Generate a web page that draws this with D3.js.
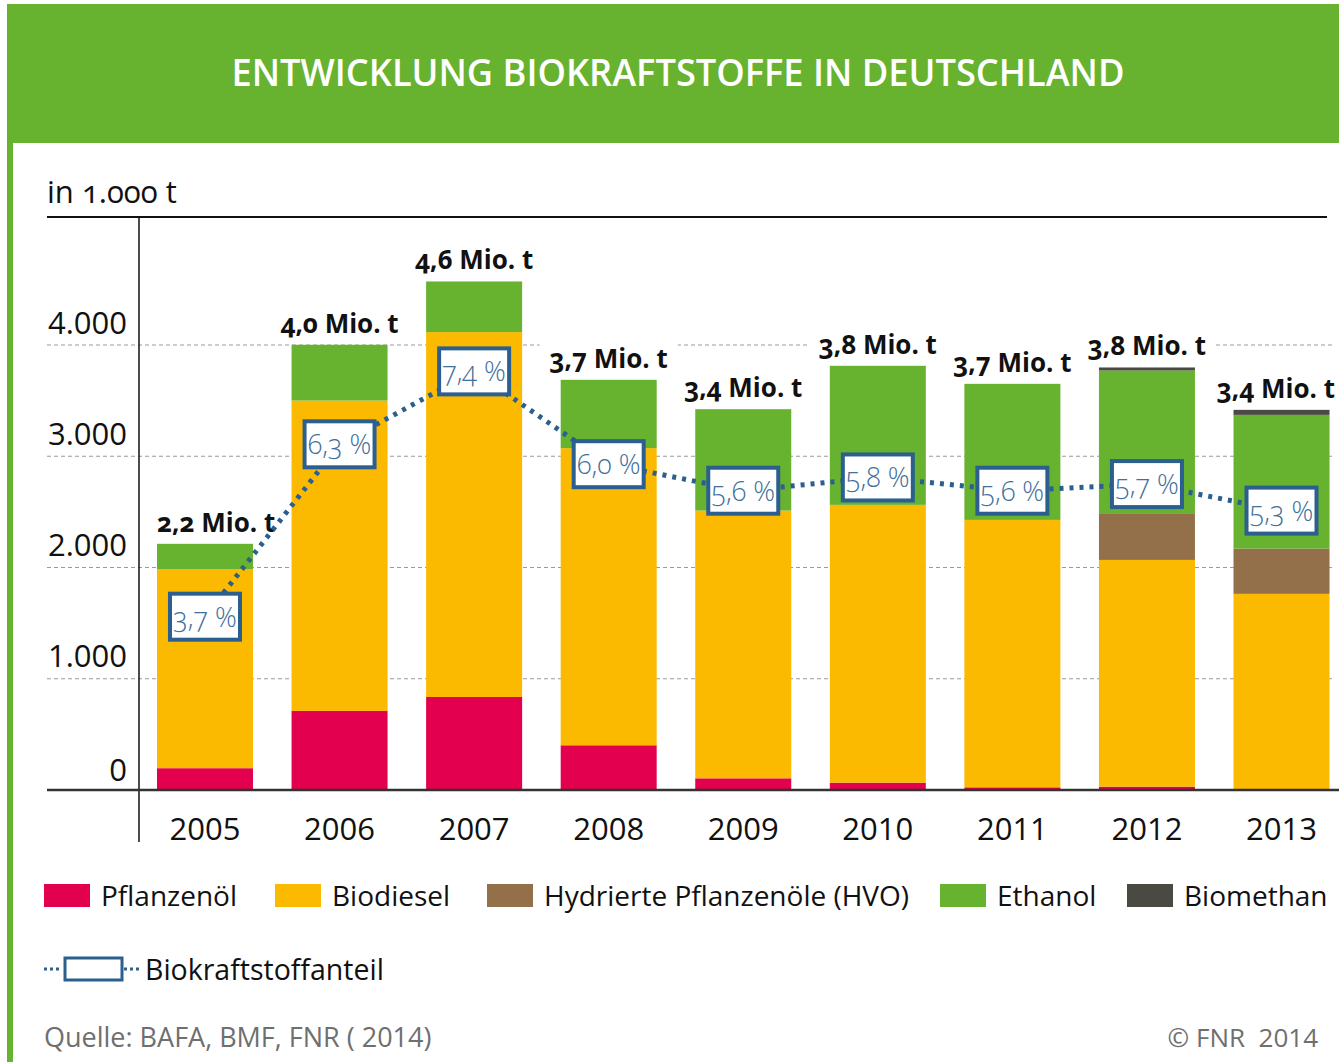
<!DOCTYPE html>
<html>
<head>
<meta charset="utf-8">
<script src="https://cdn.jsdelivr.net/npm/d3@7"></script>
<style>
  html, body { margin: 0; padding: 0; background: #fff; }
  svg { display: block; }
  text { font-family: "Open Sans", "Noto Sans", sans-serif; }
</style>
</head>
<body>
<svg id="chart" width="1339" height="1062"></svg>
<script>
// ---------- DATA ----------
const years = ["2005", "2006", "2007", "2008", "2009", "2010", "2011", "2012", "2013"];
const pflanzenoel = [196, 711, 836, 402, 105, 66, 24, 30, 0];
const biodiesel   = [1790, 2790, 3280, 2671, 2407, 2497, 2404, 2038, 1763];
const hvo         = [0, 0, 0, 0, 0, 0, 0, 420, 407];
const ethanol     = [227, 501, 455, 614, 911, 1250, 1223, 1283, 1202];
const biomethan   = [0, 0, 0, 0, 0, 0, 0, 27, 45];
const totalLabels = ["2,2 Mio. t", "4,0 Mio. t", "4,6 Mio. t", "3,7 Mio. t", "3,4 Mio. t",
                     "3,8 Mio. t", "3,7 Mio. t", "3,8 Mio. t", "3,4 Mio. t"];
const shareValues = [3.7, 6.3, 7.4, 6.0, 5.6, 5.8, 5.6, 5.7, 5.3];
const shareLabels = ["3,7 %", "6,3 %", "7,4 %", "6,0 %", "5,6 %", "5,8 %", "5,6 %", "5,7 %", "5,3 %"];
const yTicks      = [0, 1000, 2000, 3000, 4000];
const yTickLabels = ["0", "1.000", "2.000", "3.000", "4.000"];
const seriesNames = ["Pflanzenöl", "Biodiesel", "Hydrierte Pflanzenöle (HVO)", "Ethanol", "Biomethan"];
const shareName   = "Biokraftstoffanteil";

// ---------- STYLE ----------
const colors = ["#e2004f", "#fbb900", "#94704a", "#67b22f", "#4a4a42"];
const green = "#67b22f";
const lineBlue = "#2a5f8f";
const labelBlue = "#41709b";

const svg = d3.select("#chart");

// Header & frame
svg.append("rect").attr("x", 7).attr("y", 4).attr("width", 1332).attr("height", 139).attr("fill", green);
svg.append("rect").attr("x", 7).attr("y", 4).attr("width", 6).attr("height", 1058).attr("fill", green);
svg.append("text")
  .attr("x", 678).attr("y", 86)
  .attr("text-anchor", "middle")
  .attr("fill", "#fff")
  .attr("font-size", 38).attr("font-weight", 600)
  .attr("textLength", 893).attr("lengthAdjust", "spacingAndGlyphs")
  .text("ENTWICKLUNG BIOKRAFTSTOFFE IN DEUTSCHLAND");

// Unit label
svg.append("text")
  .attr("x", 47).attr("y", 203)
  .attr("font-size", 31).attr("fill", "#111")
  .style("font-variant-numeric", "oldstyle-nums")
  .text("in 1.000 t");

// ---------- SCALES ----------
const x = d3.scaleBand().domain(years).range([136.8, 1349.7]).paddingInner(0.2866).paddingOuter(0.15);
const y = d3.scaleLinear().domain([0, 4000]).range([790, 345]);
const y2 = d3.scaleLinear().domain([0, 10]).range([862, 199]);

// Gridlines
svg.append("g").selectAll("line").data(yTicks.filter(d => d > 0)).join("line")
  .attr("x1", 47).attr("x2", 1335)
  .attr("y1", d => y(d)).attr("y2", d => y(d))
  .attr("stroke", "#9a9a9a").attr("stroke-width", 1).attr("stroke-dasharray", "4,3");

// Top rule
svg.append("line").attr("x1", 47).attr("x2", 1327).attr("y1", 217).attr("y2", 217)
  .attr("stroke", "#111").attr("stroke-width", 2);

// ---------- STACKED BARS ----------
const rows = years.map((yr, i) => ({
  year: yr, s0: pflanzenoel[i], s1: biodiesel[i], s2: hvo[i], s3: ethanol[i], s4: biomethan[i]
}));
const stack = d3.stack().keys(["s0", "s1", "s2", "s3", "s4"]);
const stacked = stack(rows);

svg.append("g").selectAll("g").data(stacked).join("g")
  .attr("fill", (d, i) => colors[i])
  .selectAll("rect").data(d => d).join("rect")
  .attr("x", d => x(d.data.year))
  .attr("width", x.bandwidth())
  .attr("y", d => y(d[1]))
  .attr("height", d => Math.max(0, y(d[0]) - y(d[1])));

// Total labels with white backing (kept inside the plot: clear of the y axis and the right edge)
const totals = rows.map(r => r.s0 + r.s1 + r.s2 + r.s3 + r.s4);
const tl = svg.append("g");
years.forEach((yr, i) => {
  let cx = x(yr) + x.bandwidth() / 2;
  const by = y(totals[i]) - 12;
  const g = tl.append("g");
  const t = g.append("text")
    .attr("y", by)
    .attr("text-anchor", "middle")
    .attr("font-size", 26).attr("font-weight", 700).attr("fill", "#111")
    .style("font-variant-numeric", "oldstyle-nums")
    .text(totalLabels[i]);
  const w = t.node().getComputedTextLength();
  cx = Math.max(cx, 157 + w / 2);
  cx = Math.min(cx, 1335 - w / 2);
  t.attr("x", cx);
  g.insert("rect", "text")
    .attr("x", cx - w / 2 - 10).attr("y", by - 28)
    .attr("width", w + 20).attr("height", 38)
    .attr("fill", "#fff");
});

// Axes
const yAxis = svg.append("g").attr("transform", "translate(139,0)")
  .call(d3.axisLeft(y).tickValues(yTicks).tickFormat((d, i) => yTickLabels[i]).tickSize(0).tickPadding(12));
yAxis.select(".domain").remove();
yAxis.selectAll("text")
  .attr("font-size", 31).attr("fill", "#111")
  .attr("font-family", "'Open Sans', sans-serif")
  .attr("dy", 0).attr("y", d => d === 0 ? -10 : -12);

svg.append("line").attr("x1", 139).attr("x2", 139).attr("y1", 217).attr("y2", 842)
  .attr("stroke", "#111").attr("stroke-width", 1.5);

const xAxis = svg.append("g").attr("transform", "translate(0,790)")
  .call(d3.axisBottom(x).tickSize(0));
xAxis.select(".domain").remove();
xAxis.selectAll("text")
  .attr("font-size", 31).attr("fill", "#111")
  .attr("font-family", "'Open Sans', sans-serif")
  .attr("dy", 0).attr("y", 50);

svg.append("line").attr("x1", 47).attr("x2", 1339).attr("y1", 790).attr("y2", 790)
  .attr("stroke", "#333").attr("stroke-width", 2.5);

// ---------- SHARE LINE ----------
const line = d3.line()
  .x((d, i) => x(years[i]) + x.bandwidth() / 2)
  .y(d => y2(d));
svg.append("path").datum(shareValues)
  .attr("d", line)
  .attr("fill", "none")
  .attr("stroke", lineBlue).attr("stroke-width", 5)
  .attr("stroke-dasharray", "4,6");

const bw = 70, bh = 46;
const boxes = svg.append("g").selectAll("g").data(shareValues).join("g")
  .attr("transform", (d, i) => `translate(${x(years[i]) + x.bandwidth() / 2},${y2(d)})`);
boxes.append("rect")
  .attr("x", -bw / 2).attr("y", -bh / 2).attr("width", bw).attr("height", bh)
  .attr("fill", "#fff").attr("stroke", lineBlue).attr("stroke-width", 4);
boxes.append("text")
  .attr("text-anchor", "middle").attr("y", 10)
  .attr("font-size", 27).attr("font-weight", 300).attr("fill", labelBlue)
  .style("font-variant-numeric", "oldstyle-nums")
  .text((d, i) => shareLabels[i]);

// ---------- LEGEND ----------
const legendX = [44, 275, 487, 940, 1127];
const lg = svg.append("g").selectAll("g").data(seriesNames).join("g")
  .attr("transform", (d, i) => `translate(${legendX[i]},884)`);
lg.append("rect").attr("width", 46).attr("height", 23).attr("fill", (d, i) => colors[i]);
lg.append("text").attr("x", 57).attr("y", 22)
  .attr("font-size", 28).attr("fill", "#111")
  .text(d => d);

const l2 = svg.append("g").attr("transform", "translate(44,969)");
l2.append("line").attr("x1", 0).attr("x2", 18).attr("y1", 0).attr("y2", 0)
  .attr("stroke", lineBlue).attr("stroke-width", 3).attr("stroke-dasharray", "3,3");
l2.append("line").attr("x1", 80).attr("x2", 98).attr("y1", 0).attr("y2", 0)
  .attr("stroke", lineBlue).attr("stroke-width", 3).attr("stroke-dasharray", "3,3");
l2.append("rect").attr("x", 21).attr("y", -11).attr("width", 57).attr("height", 22)
  .attr("fill", "#fff").attr("stroke", lineBlue).attr("stroke-width", 3);
l2.append("text").attr("x", 101).attr("y", 11)
  .attr("font-size", 28.5).attr("fill", "#111").text(shareName);

// ---------- FOOTER ----------
svg.append("text").attr("x", 44).attr("y", 1047)
  .attr("font-size", 27).attr("fill", "#6f6f6f")
  .text("Quelle: BAFA, BMF, FNR ( 2014)");
svg.append("text").attr("x", 1318).attr("y", 1047)
  .attr("text-anchor", "end")
  .attr("font-size", 26).attr("fill", "#6f6f6f")
  .style("white-space", "pre")
  .text("© FNR  2014");
</script>
</body>
</html>
